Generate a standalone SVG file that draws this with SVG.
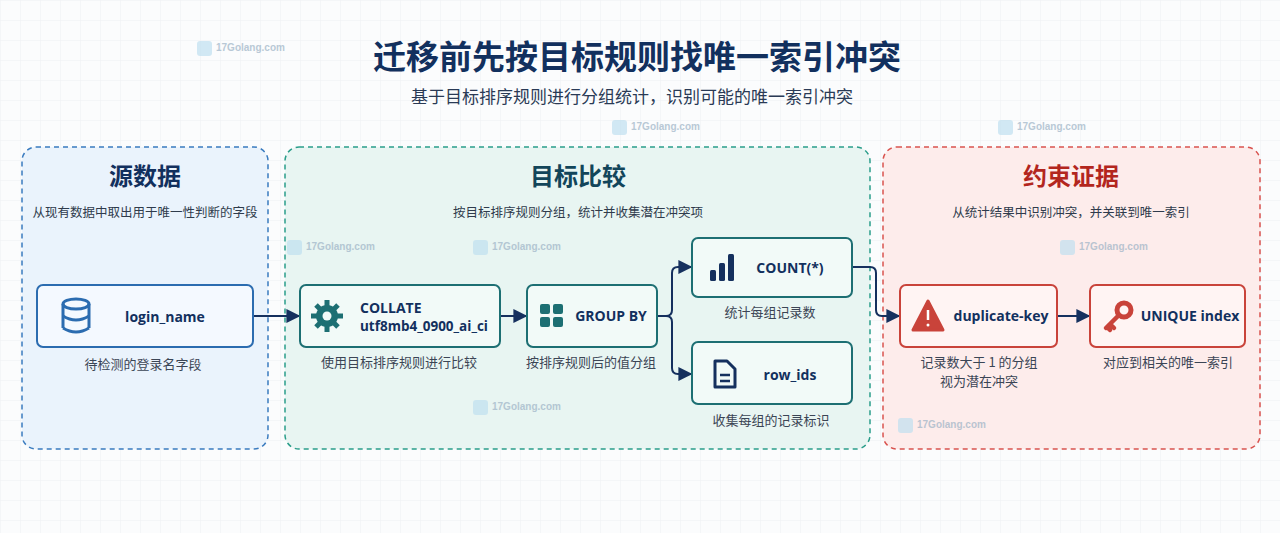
<svg xmlns="http://www.w3.org/2000/svg" width="1280" height="533" viewBox="0 0 1280 533">
<defs>
<pattern id="grid" width="20" height="20" patternUnits="userSpaceOnUse"><path d="M20 0H0V20" fill="none" stroke="#eef0f3" stroke-width="1"/></pattern>
<marker id="ar" viewBox="0 0 10 10" refX="9" refY="5" markerWidth="7" markerHeight="7" orient="auto"><path d="M0 0L10 5L0 10z" fill="#15305e"/></marker>
<style>
text{font-family:"Noto Sans CJK SC","Noto Sans",sans-serif}
.t{font-size:33px;font-weight:700;fill:#12305e;text-anchor:middle}
.st{font-size:17px;fill:#2a3a55;text-anchor:middle}
.pt{font-size:24px;font-weight:700;text-anchor:middle}
.ps{font-size:12.5px;fill:#2f3b4c;text-anchor:middle}
.nl{font-family:"Open Sans","Noto Sans",sans-serif;font-size:14px;font-weight:700;fill:#12305e}
.cap{font-size:13px;fill:#3b4555;text-anchor:middle}
.nb{fill:#f4f9ff;stroke:#2b6cb0;stroke-width:2}
.ng{fill:#f2faf8;stroke:#1d6f73;stroke-width:2}
.nr{fill:#fff4f3;stroke:#c9433a;stroke-width:2}
.c{fill:none;stroke:#15305e;stroke-width:2;marker-end:url(#ar)}
.wm{font-family:"Liberation Sans",sans-serif;font-size:10px;font-weight:700;fill:#9db3c6;opacity:.7}
</style>
</defs>
<rect width="1280" height="533" fill="#fbfcfd"/>
<rect width="1280" height="533" fill="url(#grid)"/>
<g id="title">
<text class="t" x="637" y="69">迁移前先按目标规则找唯一索引冲突</text>
<text class="st" x="632" y="103">基于目标排序规则进行分组统计，识别可能的唯一索引冲突</text>
</g>
<g id="panel-source">
<rect x="22" y="147" width="246" height="302" rx="14" fill="#eaf3fc" stroke="#3a7bbf" stroke-width="1.5" stroke-dasharray="5 4"/>
<text class="pt" x="145" y="185" fill="#12305e">源数据</text>
<text class="ps" x="145" y="217">从现有数据中取出用于唯一性判断的字段</text>
</g>
<g id="panel-compare">
<rect x="285" y="147" width="585" height="302" rx="14" fill="#e8f5f2" stroke="#2a9d8a" stroke-width="1.5" stroke-dasharray="5 4"/>
<text class="pt" x="578" y="185" fill="#12455a">目标比较</text>
<text class="ps" x="578" y="217">按目标排序规则分组，统计并收集潜在冲突项</text>
</g>
<g id="panel-constraint">
<rect x="883" y="147" width="377" height="302" rx="14" fill="#fdeceb" stroke="#d9534f" stroke-width="1.5" stroke-dasharray="5 4"/>
<text class="pt" x="1071" y="185" fill="#b3261e">约束证据</text>
<text class="ps" x="1071" y="217">从统计结果中识别冲突，并关联到唯一索引</text>
</g>
<g id="watermarks">
<g transform="translate(197,41)"><rect width="15" height="15" rx="3" fill="#bfe0f0" opacity=".7"/><text class="wm" x="19" y="10">17Golang.com</text></g>
<g transform="translate(612,120)"><rect width="15" height="15" rx="3" fill="#bfe0f0" opacity=".7"/><text class="wm" x="19" y="10">17Golang.com</text></g>
<g transform="translate(998,120)"><rect width="15" height="15" rx="3" fill="#bfe0f0" opacity=".7"/><text class="wm" x="19" y="10">17Golang.com</text></g>
<g transform="translate(287,240)"><rect width="15" height="15" rx="3" fill="#bfe0f0" opacity=".7"/><text class="wm" x="19" y="10">17Golang.com</text></g>
<g transform="translate(473,240)"><rect width="15" height="15" rx="3" fill="#bfe0f0" opacity=".7"/><text class="wm" x="19" y="10">17Golang.com</text></g>
<g transform="translate(1060,240)"><rect width="15" height="15" rx="3" fill="#bfe0f0" opacity=".7"/><text class="wm" x="19" y="10">17Golang.com</text></g>
<g transform="translate(473,400)"><rect width="15" height="15" rx="3" fill="#bfe0f0" opacity=".7"/><text class="wm" x="19" y="10">17Golang.com</text></g>
<g transform="translate(898,418)"><rect width="15" height="15" rx="3" fill="#bfe0f0" opacity=".7"/><text class="wm" x="19" y="10">17Golang.com</text></g>
</g>
<g id="connectors">
<path class="c" d="M253 316H299"/>
<path class="c" d="M500 316H526"/>
<path class="c" d="M657 316H666Q672 316 672 310V273Q672 267 678 267H691"/>
<path class="c" d="M657 316H666Q672 316 672 322V368Q672 374 678 374H691"/>
<path class="c" d="M852 267H870Q876 267 876 273V310Q876 316 882 316H899"/>
<path class="c" d="M1057 316H1089"/>
</g>
<g id="node-login">
<rect class="nb" x="37" y="285" width="216" height="62" rx="6"/>
<g fill="none" stroke="#2b6cb0" stroke-width="3"><ellipse cx="76" cy="304" rx="13" ry="5"/><path d="M63 304V328M89 304V328"/><path d="M63 316Q76 324 89 316M63 328Q76 336 89 328"/></g>
<text class="nl" x="165" y="322" text-anchor="middle">login_name</text>
<text class="cap" x="143" y="369">待检测的登录名字段</text>
</g>
<g id="node-collate">
<rect class="ng" x="300" y="285" width="200" height="62" rx="6"/>
<g fill="#1d6f73"><circle cx="327" cy="316" r="11"/><g stroke="#1d6f73" stroke-width="5"><path d="M327 300V332M311 316H343M316 305L338 327M338 305L316 327"/></g><circle cx="327" cy="316" r="4.5" fill="#f2faf8"/></g>
<text class="nl" x="360" y="313">COLLATE</text>
<text class="nl" x="360" y="331" textLength="128" lengthAdjust="spacingAndGlyphs">utf8mb4_0900_ai_ci</text>
<text class="cap" x="399" y="367">使用目标排序规则进行比较</text>
</g>
<g id="node-groupby">
<rect class="ng" x="527" y="285" width="130" height="62" rx="6"/>
<g fill="#1d6f73"><rect x="540" y="304" width="10" height="10" rx="2"/><rect x="553" y="304" width="10" height="10" rx="2"/><rect x="540" y="317" width="10" height="10" rx="2"/><rect x="553" y="317" width="10" height="10" rx="2"/></g>
<text class="nl" x="611" y="321" text-anchor="middle">GROUP BY</text>
<text class="cap" x="591" y="367">按排序规则后的值分组</text>
</g>
<g id="node-count">
<rect class="ng" x="692" y="238" width="160" height="59" rx="6"/>
<g fill="#15305e"><rect x="710" y="270" width="6" height="11" rx="1.5"/><rect x="719" y="263" width="6" height="18" rx="1.5"/><rect x="728" y="254" width="6" height="27" rx="1.5"/></g>
<text class="nl" x="790" y="273" text-anchor="middle">COUNT(*)</text>
<text class="cap" x="770" y="317">统计每组记录数</text>
</g>
<g id="node-rowids">
<rect class="ng" x="692" y="342" width="160" height="62" rx="6"/>
<path d="M715 361H727L735 369V387H715Z" fill="none" stroke="#15305e" stroke-width="3" stroke-linejoin="round"/>
<path d="M720 375H730M720 381H730" stroke="#15305e" stroke-width="2.5"/>
<text class="nl" x="790" y="380" text-anchor="middle">row_ids</text>
<text class="cap" x="771" y="425">收集每组的记录标识</text>
</g>
<g id="node-duplicate">
<rect class="nr" x="900" y="285" width="157" height="62" rx="6"/>
<path d="M928 301L943 330H913Z" fill="#c9433a" stroke="#c9433a" stroke-width="3" stroke-linejoin="round"/>
<path d="M928 310V320" stroke="#fff" stroke-width="2.5"/><circle cx="928" cy="325" r="1.5" fill="#fff"/>
<text class="nl" x="1001" y="321" text-anchor="middle">duplicate-key</text>
<text class="cap" x="979" y="367">记录数大于 1 的分组</text>
<text class="cap" x="979" y="386">视为潜在冲突</text>
</g>
<g id="node-unique">
<rect class="nr" x="1090" y="285" width="155" height="62" rx="6"/>
<circle cx="1124" cy="310" r="7" fill="none" stroke="#c9433a" stroke-width="5"/>
<path d="M1118 316L1106 328M1110 324L1114 328M1107 327L1110 330" stroke="#c9433a" stroke-width="4.5" stroke-linecap="round"/>
<text class="nl" x="1190" y="321" text-anchor="middle">UNIQUE index</text>
<text class="cap" x="1168" y="367">对应到相关的唯一索引</text>
</g>
</svg>
